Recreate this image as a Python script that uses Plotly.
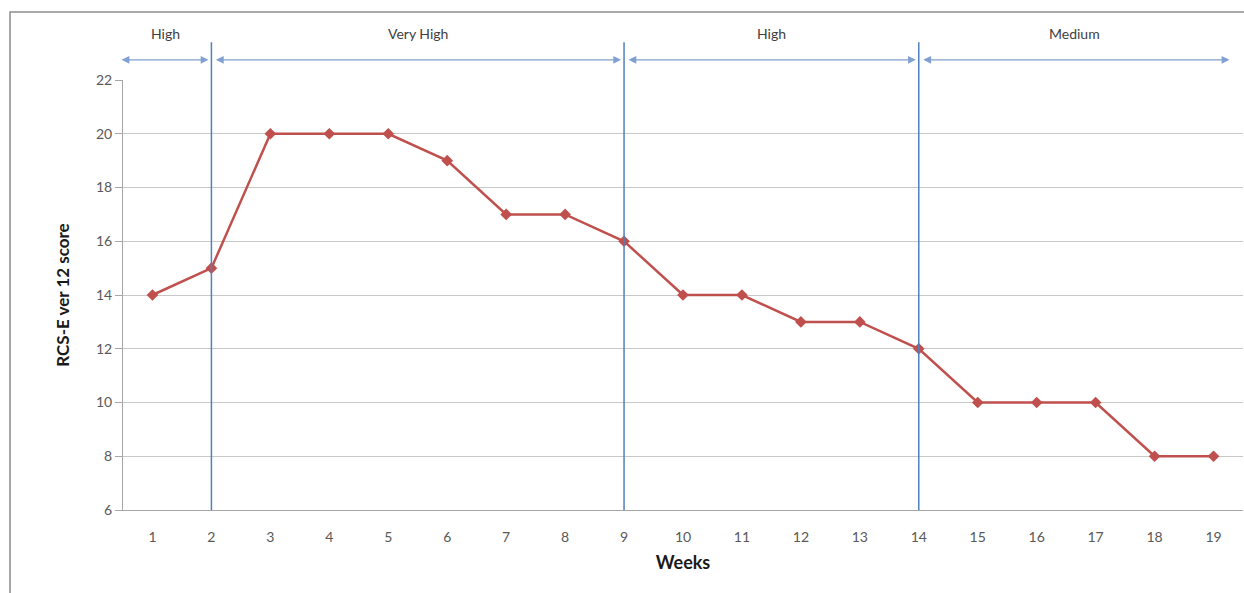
import plotly.graph_objects as go

weeks = list(range(1, 20))
scores = [14, 15, 20, 20, 20, 19, 17, 17, 16, 14, 14, 13, 13, 12, 10, 10, 10, 8, 8]
y_ticks = [6, 8, 10, 12, 14, 16, 18, 20, 22]
phase_labels = ["High", "Very High", "High", "Medium"]
phase_bounds = [0.45, 2, 9, 14, 19.27]
divider_weeks = [2, 9, 14]

FONT = "Lato"
fig = go.Figure()
fig.add_trace(go.Scatter(
    x=weeks, y=scores, mode="lines+markers",
    line=dict(color="#C0504D", width=2.5),
    marker=dict(symbol="diamond", size=9, color="#C0504D"),
    showlegend=False, cliponaxis=False,
))

shapes = []
for w in divider_weeks:
    shapes.append(dict(type="line", xref="x", yref="paper", x0=w, x1=w, y0=0, y1=1.088,
                       line=dict(color="#4F81BD", width=1.5), layer="above"))
# outer frame
shapes.append(dict(type="rect", xref="paper", yref="paper", x0=-0.1009, x1=1.2, y0=-0.4, y1=1.158,
                   line=dict(color="#8C8C8C", width=1.5), layer="below"))

annotations = []
gap = 0.05
for i, lab in enumerate(phase_labels):
    a = phase_bounds[i] + (gap if i > 0 else 0)
    b = phase_bounds[i + 1] - (gap if i < len(phase_labels) - 1 else 0)
    annotations.append(dict(
        x=b, y=1.047, xref="x", yref="paper",
        ax=a, ay=0, axref="x", ayref="pixel",
        showarrow=True, arrowside="end+start", arrowhead=2, arrowsize=1.2,
        arrowwidth=1.3, arrowcolor="#7FA0D0", text=""))
    annotations.append(dict(
        x=(phase_bounds[i] + phase_bounds[i + 1]) / 2, y=1.107, xref="x", yref="paper",
        xanchor="center", yanchor="middle",
        text=lab, showarrow=False, font=dict(family=FONT, size=14, color="#404040")))

fig.update_layout(
    width=1244, height=593,
    margin=dict(l=123, r=1, t=80, b=83),
    plot_bgcolor="white", paper_bgcolor="white",
    shapes=shapes, annotations=annotations,
    xaxis=dict(
        range=[0.5, 19.5], tickvals=weeks, ticktext=[str(w) for w in weeks],
        showgrid=False, zeroline=False, showline=True, linecolor="#A6A6A6", linewidth=1,
        ticks="", ticklabelstandoff=14,
        tickfont=dict(family=FONT, size=14, color="#595959"),
        title=dict(text="<b>Weeks</b>", font=dict(family=FONT, size=18, color="#1a1a1a"), standoff=12),
    ),
    yaxis=dict(
        range=[6, 22], tickvals=y_ticks,
        showgrid=True, gridcolor="#C8C8C8", gridwidth=1, zeroline=False,
        showline=True, linecolor="#A6A6A6", linewidth=1,
        ticks="outside", ticklen=7, tickcolor="#A6A6A6",
        tickfont=dict(family=FONT, size=14, color="#595959"),
        title=dict(text="<b>RCS-E ver 12 score</b>", font=dict(family=FONT, size=17, color="#1a1a1a"), standoff=22),
    ),
)

fig.write_html("out.html", config={"displayModeBar": False},
               post_script="document.body.style.margin='0';document.body.style.overflow='hidden';")
